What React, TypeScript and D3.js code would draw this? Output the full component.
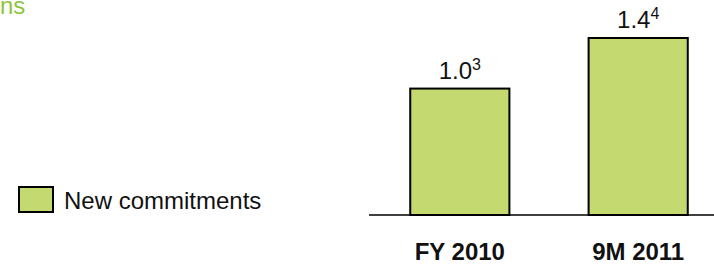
import React from 'react';
import * as d3 from 'd3';

const categories = ['FY 2010', '9M 2011'];
const values = [1.0, 1.4];
const valueLabels = ['1.0', '1.4'];
const footnotes = ['3', '4'];
const seriesName = 'New commitments';
// only the tail of the unit title is visible in the original slide
const unitTitle = 'ns';

const W = 714;
const H = 265;
const baseY = 215;
const barFill = '#C4D96F';
const green = '#8CC63F';
const font = 'Liberation Sans, Arial, sans-serif';

export default function App() {
  const x = d3.scaleBand<string>()
    .domain(categories)
    .range([371, 727])
    .paddingInner(0.444)
    .paddingOuter(0.22);

  const y = d3.scaleLinear()
    .domain([0, d3.max(values) as number])
    .range([baseY, 38]);

  return (
    <svg width={W} height={H} style={{ position: 'absolute', left: 0, top: 0 }} fontFamily={font}>
      <text x={0} y={14} fontSize={24} fill={green}>{unitTitle}</text>

      {/* bars */}
      {categories.map((c, i) => (
        <g key={c}>
          <rect
            x={x(c)}
            y={y(values[i])}
            width={x.bandwidth()}
            height={baseY - y(values[i])}
            fill={barFill}
            stroke="#000"
            strokeWidth={2}
          />
          <text x={(x(c) as number) + x.bandwidth() / 2} y={y(values[i]) - 10} textAnchor="middle" fontSize={24} fill="#111">
            {valueLabels[i]}
            <tspan fontSize={16} dy={-9}>{footnotes[i]}</tspan>
          </text>
          <text x={(x(c) as number) + x.bandwidth() / 2} y={260} textAnchor="middle" fontSize={24} fontWeight="bold" fill="#111">
            {c}
          </text>
        </g>
      ))}

      {/* baseline */}
      <line x1={369} x2={W} y1={baseY} y2={baseY} stroke="#000" strokeWidth={1.5} />

      {/* legend */}
      <rect x={19} y={187} width={34} height={25} fill={barFill} stroke="#000" strokeWidth={2} />
      <text x={64} y={209} fontSize={24} fill="#111">{seriesName}</text>
    </svg>
  );
}
